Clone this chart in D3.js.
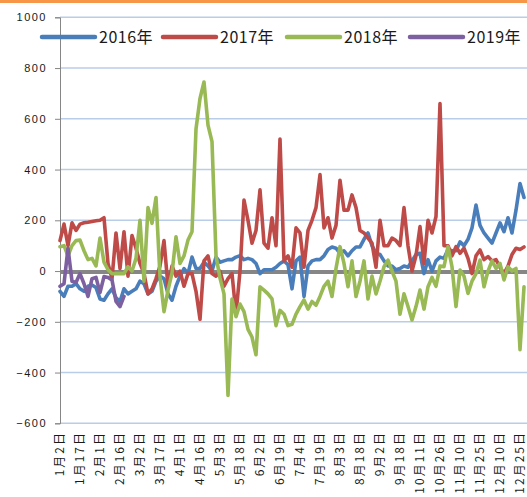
<!DOCTYPE html>
<html>
<head>
<meta charset="utf-8">
<script src="https://cdn.jsdelivr.net/npm/d3@7"></script>
<style>
  body { margin: 0; background: #fff; }
  svg { display: block; }
</style>
</head>
<body>
<div id="chart"></div>
<script>
// x labels, one every 5 data points
const dateLabels = ["1月2日", "1月17日", "2月1日", "2月16日", "3月2日", "3月17日", "4月1日", "4月16日",
    "5月3日", "5月18日", "6月2日", "6月19日", "7月4日", "7月19日", "8月3日", "8月18日", "9月2日",
    "9月18日", "10月11日", "10月26日", "11月10日", "11月25日", "12月10日", "12月25日"];
const perLabel = 5;
const yTicks = [-600, -400, -200, 0, 200, 400, 600, 800, 1000];
const seriesNames = ["2016年", "2017年", "2018年", "2019年"];

const v2016 = [-80, -100, -60, -60, -50, -70, -80, -60, -55, -65, -110, -115, -90, -70, -105, -120, -70, -90, -80, -70,
    -40, -50, -90, -80, -40, -20, -30, -90, -115, -60, -20, 10, -10, 55, 10, 10, 35, 20, 0, 55,
    35, 40, 45, 45, 55, 60, 45, 50, 45, 30, -10, 5, 5, 5, 15, 30, 40, 25, -70, 40,
    55, -100, 20, 40, 45, 45, 60, 85, 95, 90, 70, 80, 60, 80, 95, 95, 125, 150, 100, 70,
    65, 40, 20, 20, 5, 10, 20, 15, 40, 65, 70, -10, 45, 0, 40, 55, 50, 85, 80, 80,
    115, 100, 125, 170, 260, 180, 150, 130, 110, 150, 190, 155, 210, 150, 240, 345, 290];
const v2017 = [120, 185, 100, 190, 160, 185, 190, 192, 195, 198, 200, 210, 30, -30, 150, 10, 155, -20, 140, 90,
    30, -10, -90, -70, -30, 20, 120, -60, 20, -20, 0, -60, -10, -10, -80, -190, 40, 60, -10, -20,
    0, -60, -30, -10, -170, 0, 280, 200, 110, 160, 320, 110, 90, 210, 100, 520, 40, 60, 15, 170,
    150, 15, 160, 200, 250, 380, 170, 210, 130, 180, 358, 240, 240, 300, 250, 160, 150, 130, 110, 15,
    200, 100, 100, 130, 120, 100, 250, 100, 0, 60, 175, 30, 200, 150, 215, 660, 100, 100, 60, 96,
    70, 90, 50, -10, 60, 83, 45, 57, 40, 45, 15, -10, 20, 65, 90, 85, 95];
const v2018 = [96, 100, 60, 100, 120, 122, 80, 45, 50, 20, 130, 35, 5, -10, -10, -10, -10, 17, 0, 50,
    200, -40, 250, 188, 290, -22, -160, -75, -8, 135, 30, 60, 122, 155, 560, 680, 745, 575, 510, 60,
    -28, -90, -490, -110, -180, -130, -160, -230, -260, -330, -62, -75, -90, -110, -215, -155, -170, -215, -210, -170,
    -140, -114, -150, -120, -135, -100, -60, -40, -100, 10, 96, 30, -62, 40, -100, -40, 40, -110, -20, -90,
    -40, 17, 43, 0, -40, -170, -90, -140, -193, -140, -75, -150, -62, -25, -60, 20, 17, 96, 17, -140,
    4, -20, -88, -40, -10, 43, -62, 0, 40, 10, 30, -35, 17, 0, 10, -310, -62];
const v2019 = [-60, -50, 90, -40, -45, -10, -50, -100, -30, -25, -85, -22, -25, -35, -120, -140, -100];

const colors = {
    s2016: "#4a7ebb",
    s2017: "#be4b48",
    s2018: "#98b954",
    s2019: "#7d60a0",
    grid: "#b9cde8",
    axis: "#868686",
    text: "#1a1a1a"
};
const seriesColors = [colors.s2016, colors.s2017, colors.s2018, colors.s2019];
const seriesData = [v2016, v2017, v2018, v2019];

const width = 527, height = 497;
const plot = { left: 60, right: 530, top: 17.3, bottom: 423.3 };

const svg = d3.select("#chart").append("svg")
    .attr("width", width)
    .attr("height", height)
    .style("font-family", "'Noto Sans CJK SC', 'Noto Sans', sans-serif");

// orange strip along the top edge
svg.append("rect")
    .attr("x", 0).attr("y", 0)
    .attr("width", width).attr("height", 3)
    .attr("fill", "#f79646");

const x = d3.scaleLinear()
    .domain([0, v2016.length - 1])
    .range([plot.left, plot.left + 4 * (v2016.length - 1)]);

const y = d3.scaleLinear()
    .domain([-600, 1000])
    .range([plot.bottom, plot.top]);

// gridlines
svg.append("g")
    .selectAll("line")
    .data(yTicks)
    .enter().append("line")
    .attr("x1", plot.left)
    .attr("x2", plot.right)
    .attr("y1", d => y(d))
    .attr("y2", d => y(d))
    .attr("stroke", colors.grid)
    .attr("stroke-width", 1.5);

// y axis
const yAxis = svg.append("g")
    .attr("transform", `translate(${plot.left},0)`)
    .call(d3.axisLeft(y).tickValues(yTicks).tickFormat(d3.format("d")).tickSize(5).tickPadding(8));
yAxis.select(".domain").attr("stroke", colors.axis);
yAxis.selectAll(".tick line").attr("stroke", colors.axis);
yAxis.selectAll(".tick text")
    .attr("fill", colors.text)
    .style("font-size", "11px")
    .style("letter-spacing", "1.5px");

// category axis crossing at zero
svg.append("line")
    .attr("x1", plot.left)
    .attr("x2", plot.right)
    .attr("y1", y(0) + 1)
    .attr("y2", y(0) + 1)
    .attr("stroke", colors.axis)
    .attr("stroke-width", 4);

// x labels at the bottom, rotated
svg.append("g")
    .selectAll("text")
    .data(dateLabels)
    .enter().append("text")
    .attr("transform", (d, i) => `translate(${x(i * perLabel)},431) rotate(-90)`)
    .attr("text-anchor", "end")
    .attr("dy", "0.35em")
    .attr("fill", colors.text)
    .style("font-size", "12px")
    .style("letter-spacing", "2px")
    .text(d => d);

// series lines
const line = d3.line()
    .x((d, i) => x(i))
    .y(d => y(d));

seriesData.forEach((data, k) => {
    svg.append("path")
        .datum(data)
        .attr("fill", "none")
        .attr("stroke", seriesColors[k])
        .attr("stroke-width", 3.6)
        .attr("stroke-linejoin", "round")
        .attr("stroke-linecap", "round")
        .attr("d", line);
});

// legend
const legendX = [42, 163, 287, 410];
const legend = svg.append("g").attr("transform", "translate(0,37)");
seriesNames.forEach((name, k) => {
    legend.append("line")
        .attr("x1", legendX[k])
        .attr("x2", legendX[k] + 53)
        .attr("y1", 0).attr("y2", 0)
        .attr("stroke", seriesColors[k])
        .attr("stroke-width", 4.5)
        .attr("stroke-linecap", "round");
    legend.append("text")
        .attr("x", legendX[k] + 57)
        .attr("y", 0)
        .attr("dy", "0.35em")
        .attr("fill", colors.text)
        .style("font-size", "16px")
        .style("letter-spacing", "0.5px")
        .text(name);
});
</script>
</body>
</html>
